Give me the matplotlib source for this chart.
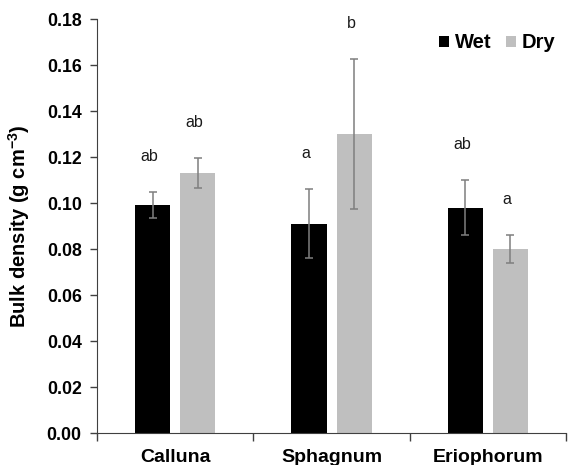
import numpy as np
import matplotlib
matplotlib.use("Agg")
import matplotlib.pyplot as plt
from matplotlib.ticker import FixedLocator, NullFormatter

plt.rcParams["font.family"] = ["Liberation Sans", "DejaVu Sans"]
plt.rcParams["mathtext.fontset"] = "custom"
plt.rcParams["mathtext.rm"] = "Liberation Sans:bold"
plt.rcParams["mathtext.default"] = "rm"

# Data
species = ["Calluna", "Sphagnum", "Eriophorum"]
wet_mean = [0.099, 0.091, 0.098]
wet_err = [0.0057, 0.015, 0.012]
dry_mean = [0.113, 0.130, 0.080]
dry_err = [0.0065, 0.0327, 0.006]
wet_letters = ["ab", "a", "ab"]
dry_letters = ["ab", "b", "a"]

fig = plt.figure(figsize=(5.72, 4.65), dpi=100)
ax = fig.add_axes([0.1696, 0.0688, 0.8199, 0.890])

x = np.arange(len(species))
width = 0.224
off = 0.144
err_kw = dict(ecolor="#7f7f7f", elinewidth=1.1, capsize=3, capthick=1.1)

ax.bar(x - off, wet_mean, width, yerr=wet_err, color="black", label="Wet", error_kw=err_kw)
ax.bar(x + off, dry_mean, width, yerr=dry_err, color="#bfbfbf", label="Dry", error_kw=err_kw)

# significance letters
for i in range(len(species)):
    ax.text(x[i] - off - 0.02, wet_mean[i] + wet_err[i] + 0.0155, wet_letters[i],
            ha="center", va="center", fontsize=11.5, color="#1a1a1a")
    ax.text(x[i] + off - 0.02, dry_mean[i] + dry_err[i] + 0.0155, dry_letters[i],
            ha="center", va="center", fontsize=11.5, color="#1a1a1a")

ax.set_xlim(-0.5, 2.5)
ax.set_ylim(0, 0.18)
ax.set_yticks(np.arange(0, 0.181, 0.02))
ax.set_yticklabels([f"{v:.2f}" for v in np.arange(0, 0.181, 0.02)])
ax.tick_params(axis="y", labelsize=12.8, length=5, width=1, pad=6, color="#404040")
for lab in ax.get_yticklabels():
    lab.set_fontweight("bold")

ax.set_xticks(x)
ax.set_xticklabels(species, fontsize=14, fontweight="bold")
ax.tick_params(axis="x", length=0, pad=11.5)
ax.xaxis.set_minor_locator(FixedLocator([-0.5, 0.5, 1.5, 2.5]))
ax.xaxis.set_minor_formatter(NullFormatter())
ax.tick_params(axis="x", which="minor", length=6, width=1, color="#404040")

ax.spines["top"].set_visible(False)
ax.spines["right"].set_visible(False)
ax.spines["left"].set_color("#404040")
ax.spines["bottom"].set_color("#404040")

ax.set_ylabel("Bulk density (g cm$^{-3}$)", fontsize=14.5, fontweight="bold")
ax.yaxis.set_label_coords(-0.138, 0.5)

leg = ax.legend(loc="upper right", bbox_to_anchor=(0.995, 0.985), borderaxespad=0,
                ncol=2, frameon=False,
                handlelength=0.5, handleheight=0.5, handletextpad=0.3,
                columnspacing=0.7, prop={"weight": "bold", "size": 14.5})

plt.savefig("out.png", dpi=100)
